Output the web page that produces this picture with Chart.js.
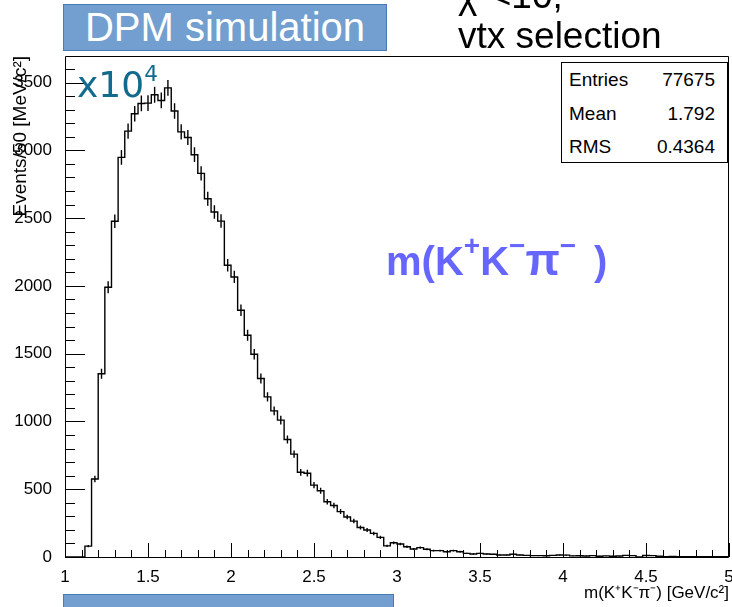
<!DOCTYPE html>
<html>
<head>
<meta charset="utf-8">
<script src="https://cdn.jsdelivr.net/npm/chart.js@4.4.1/dist/chart.umd.min.js"></script>
<style>
    html, body { margin: 0; padding: 0; background: #fff; }
    #wrap { position: relative; width: 732px; height: 607px; overflow: hidden; }
    #wrap canvas { position: absolute; left: 0; top: 0; }
    .note { position: absolute; white-space: nowrap; font-family: "Liberation Sans", Arial, sans-serif; }
    .box { position: absolute; box-sizing: border-box; background: #729fcf; border: 1px solid #4a7ab5; }
    .up { position: relative; font-size: 0.6em; }
    #stats { position: absolute; left: 561px; top: 62px; width: 167px; height: 101px; box-sizing: border-box;
             border: 1px solid #000; background: #fff; font-family: "Liberation Sans", Arial, sans-serif; font-size: 19px; }
    #stats div { position: absolute; line-height: 19px; white-space: nowrap; }
</style>
</head>
<body>
<div id="wrap">
    <canvas id="histChart" width="732" height="607"></canvas>

    <div class="box" style="left:63px; top:4px; width:324px; height:47px;"></div>
    <div class="note" style="left:63px; top:4px; width:324px; line-height:47px; text-align:center; font-size:40px; color:#fff;">DPM simulation</div>
    <div class="box" style="left:63px; top:594px; width:331px; height:30px;"></div>

    <div class="note" style="left:458px; top:-23px; font-size:37px; line-height:37px; color:#000;">&chi;<span class="up" style="top:-0.8em">2</span>&lt;10,</div>
    <div class="note" style="left:458px; top:17px; font-size:37px; line-height:37px; color:#000;">vtx selection</div>

    <div class="note" style="left:77px; top:67px; font-family:'DejaVu Sans', sans-serif; font-size:36px; line-height:36px; color:#126a8c;">x10<span class="up" style="top:-0.75em">4</span></div>

    <div class="note" style="left:386px; top:239px; font-size:40px; line-height:40px; font-weight:bold; color:#6666ff;">m(K<span class="up" style="top:-0.7em; font-size:0.7em">+</span>K<span class="up" style="top:-0.7em; font-size:0.7em">&minus;</span><span style="font-size:1.12em">&pi;</span><span class="up" style="top:-0.7em; font-size:0.7em">&minus;</span><span style="margin-left:0.45em">)</span></div>

    <div id="stats"></div>
</div>

<script>
    // histogram: 100 bins of 40 MeV from 1 to 5 GeV/c2
    const binLow = 1.0
    const binWidth = 0.04
    const counts = [
        0, 0, 0, 80, 575, 1352, 1990, 2477, 2948, 3142,
        3270, 3346, 3348, 3410, 3368, 3461, 3290, 3136, 3095, 2968,
        2830, 2643, 2545, 2478, 2152, 2066, 1820, 1636, 1496, 1317,
        1181, 1078, 1010, 867, 759, 625, 618, 530, 489, 408,
        380, 335, 295, 265, 218, 199, 174, 145, 82, 105,
        96, 76, 59, 69, 57, 47, 47, 39, 47, 39,
        27, 22, 27, 22, 20, 15, 15, 20, 15, 12,
        10, 10, 9, 12, 15, 14, 8, 9, 7, 10,
        6, 8, 6, 7, 12, 10, 0, 11, 10, 5,
        3, 4, 2, 3, 3, 2, 3, 2, 2, 3
    ]
    const xTicks = [1, 1.5, 2, 2.5, 3, 3.5, 4, 4.5, 5]
    const yTicks = [0, 500, 1000, 1500, 2000, 2500, 3000, 3500]
    const yMax = 3696
    const statNames = ['Entries', 'Mean', 'RMS']
    const statValues = ['77675', '1.792', '0.4364']

    // stats box
    const stats = document.getElementById('stats')
    for (var i = 0; i < statNames.length; i++) {
        var rowTop = 7 + i * 33.5
        stats.innerHTML += '<div style="left:7px; top:' + rowTop + 'px">' + statNames[i] + '</div>' +
            '<div style="right:12px; top:' + rowTop + 'px">' + statValues[i] + '</div>'
    }

    let points = []
    for (var i = 0; i < counts.length; i++) {
        points.push({ x: binLow + binWidth * i, y: counts[i] })
    }
    points.push({ x: binLow + binWidth * counts.length, y: counts[counts.length - 1] })

    // ROOT style frame, inward ticks and sqrt(N) error bars
    const rootFrame = {
        id: 'rootFrame',
        afterDatasetsDraw(chart) {
            const ctx = chart.ctx
            const xs = chart.scales.x
            const ys = chart.scales.y
            const a = chart.chartArea
            ctx.save()
            ctx.strokeStyle = '#000'
            ctx.lineWidth = 1.4
            ctx.beginPath()
            for (var i = 0; i < counts.length; i++) {
                if (counts[i] <= 0) continue
                var err = Math.sqrt(counts[i])
                var cx = xs.getPixelForValue(binLow + binWidth * (i + 0.5))
                ctx.moveTo(cx, ys.getPixelForValue(counts[i] - err))
                ctx.lineTo(cx, ys.getPixelForValue(counts[i] + err))
            }
            ctx.stroke()

            ctx.lineWidth = 1
            ctx.beginPath()
            ctx.rect(Math.round(a.left) + 0.5, Math.round(a.top) + 0.5, Math.round(a.right - a.left) - 1, Math.round(a.bottom - a.top))
            // x ticks
            for (var v = 10; v <= 50; v++) {
                var px = Math.round(xs.getPixelForValue(v / 10)) + 0.5
                var len = (v % 5 == 0) ? 14 : 7
                ctx.moveTo(px, a.bottom)
                ctx.lineTo(px, a.bottom - len)
            }
            // y ticks
            for (var v = 0; v <= yMax; v += 100) {
                var py = Math.round(ys.getPixelForValue(v)) + 0.5
                var len = (v % 500 == 0) ? 20 : 10
                ctx.moveTo(a.left, py)
                ctx.lineTo(a.left + len, py)
            }
            ctx.stroke()
            ctx.restore()
        }
    }

    Chart.defaults.font.family = '"Liberation Sans", Arial, sans-serif'
    Chart.defaults.color = '#000'

    new Chart(document.getElementById('histChart'), {
        type: 'line',
        data: {
            datasets: [{
                label: 'm(K+K-pi-)',
                data: points,
                stepped: 'before',
                borderColor: '#000',
                borderWidth: 1.4,
                pointRadius: 0,
                fill: false
            }]
        },
        options: {
            responsive: false,
            animation: false,
            layout: { padding: { top: 56, right: 3, bottom: 0, left: 0 } },
            plugins: {
                legend: { display: false },
                tooltip: { enabled: false }
            },
            scales: {
                x: {
                    type: 'linear',
                    min: 1,
                    max: 5,
                    grid: { display: false },
                    border: { display: false },
                    afterBuildTicks: function (scale) {
                        scale.ticks = xTicks.map(v => ({ value: v }))
                    },
                    ticks: {
                        font: { size: 17 }, padding: 2, maxRotation: 0, autoSkip: false,
                        callback: function (value) { return String(value) }
                    },
                    title: {
                        display: true,
                        text: 'm(K\u207AK\u207B\u03C0\u207B) [GeV/c\u00B2]',
                        align: 'end',
                        font: { size: 17 },
                        padding: { top: 0, bottom: 3 }
                    },
                    afterFit: function (scale) {
                        scale.height = 50
                        scale.paddingLeft = 0
                        scale.paddingRight = 0
                    }
                },
                y: {
                    type: 'linear',
                    min: 0,
                    max: yMax,
                    grid: { display: false },
                    border: { display: false },
                    afterBuildTicks: function (scale) {
                        scale.ticks = yTicks.map(v => ({ value: v }))
                    },
                    ticks: {
                        font: { size: 17 }, padding: 5,
                        callback: function (value) { return String(value) }
                    },
                    title: {
                        display: true,
                        text: 'Events/50 [MeV/c\u00B2]',
                        align: 'end',
                        font: { size: 19 },
                        padding: { top: 9, bottom: 0 }
                    },
                    afterFit: function (scale) {
                        scale.width = 65
                        scale.paddingTop = 0
                        scale.paddingBottom = 0
                    }
                }
            }
        },
        plugins: [rootFrame]
    })
</script>
</body>
</html>
